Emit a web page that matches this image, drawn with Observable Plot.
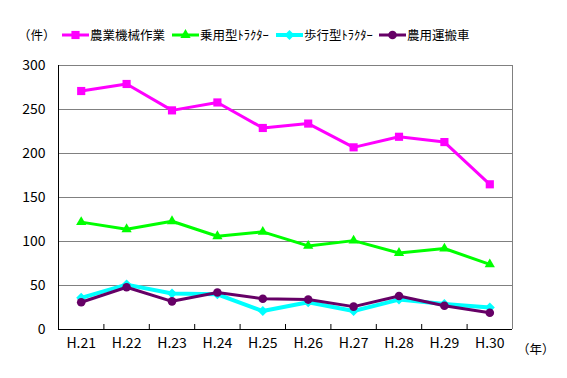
<!DOCTYPE html>
<html>
<head>
<meta charset="utf-8">
<script src="https://cdn.jsdelivr.net/npm/d3@7"></script>
<script src="https://cdn.jsdelivr.net/npm/@observablehq/plot@0.6"></script>
<style>
  html, body { margin: 0; padding: 0; background: #fff; }
  #wrap { position: relative; width: 567px; height: 378px; font-family: "Noto Sans CJK JP", sans-serif; color: #000; }
  #legend { position: relative; width: 567px; height: 52px; }
  .item { position: absolute; top: 26px; display: flex; align-items: center; font-size: 12.5px; line-height: 18px; white-space: nowrap; }
  .item svg { display: block; margin-right: 1px; }
  #unit { position: absolute; left: 18px; top: 26px; font-size: 12.5px; line-height: 18px; }
  #yearlab { position: absolute; left: 517px; top: 340px; font-size: 12.5px; line-height: 18px; }
  #chart svg { display: block; }
</style>
</head>
<body>
<div id="wrap">
  <div id="legend"><span id="unit">（件）</span></div>
  <div id="chart"></div>
  <span id="yearlab">（年）</span>
</div>
<script>
const years = ["H.21","H.22","H.23","H.24","H.25","H.26","H.27","H.28","H.29","H.30"];
const seriesNames = ["農業機械作業", "乗用型ﾄﾗｸﾀｰ", "歩行型ﾄﾗｸﾀｰ", "農用運搬車"];
const nogyoKikai = [271, 279, 249, 258, 229, 234, 207, 219, 213, 165];
const joyoTractor = [122, 114, 123, 106, 111, 95, 101, 87, 92, 74];
const hokoTractor = [36, 51, 41, 40, 21, 31, 21, 34, 29, 25];
const unpansha = [31, 48, 32, 42, 35, 34, 26, 38, 27, 19];
const yTicks = [0, 50, 100, 150, 200, 250, 300];

const values = [nogyoKikai, joyoTractor, hokoTractor, unpansha];
const styles = [
  {color: "#ff00ff", symbol: "square", r: 4.6, rotate: 0, sw: 3},
  {color: "#00ff00", symbol: "triangle", r: 3.8, rotate: 0, sw: 3},
  {color: "#00ffff", symbol: "square", r: 4.0, rotate: 45, sw: 4},
  {color: "#660066", symbol: "circle", r: 4.3, rotate: 0, sw: 3}
];

const rows = [];
seriesNames.forEach((s, k) => values[k].forEach((v, i) => rows.push({series: s, k, i: i + 1, year: years[i], value: v})));

const n = years.length;
const bounds = d3.range(1.5, n, 1);

const marks = [
  Plot.gridY(yTicks.slice(1), {stroke: "#808080", strokeOpacity: 1, strokeWidth: 1}),
  Plot.ruleX([n + 0.5], {stroke: "#808080"}),
  Plot.ruleY([0], {stroke: "#000"}),
  Plot.ruleX([0.5], {stroke: "#000"}),
  Plot.axisY(yTicks, {tickSize: 0, tickPadding: 13, fontSize: 14, fill: "#000", label: null}),
  Plot.axisX(d3.range(1, n + 1), {tickSize: 0, tickPadding: 9, tickFormat: d => years[d - 1], fontSize: 14, fill: "#000", label: null}),
  Plot.ruleX(bounds, {x: d => d, y1: 0, y2: 0, insetBottom: 5, stroke: "#000", strokeWidth: 1})
];
seriesNames.forEach((s, k) => {
  const st = styles[k];
  const data = rows.filter(d => d.k === k);
  marks.push(Plot.line(data, {x: "i", y: "value", stroke: st.color, strokeWidth: st.sw}));
  marks.push(Plot.dot(data, {x: "i", y: "value", fill: st.color, stroke: "none", symbol: () => st.symbol, r: st.r, rotate: st.rotate}));
});

const chart = Plot.plot({
  width: 567,
  height: 326,
  marginTop: 13,
  marginBottom: 49,
  marginLeft: 58,
  marginRight: 55,
  style: {fontFamily: "'Noto Sans CJK JP', sans-serif", background: "#fff", color: "#000"},
  x: {type: "linear", domain: [0.5, n + 0.5], axis: null},
  y: {type: "linear", domain: [0, 300], axis: null},
  symbol: {type: "identity"},
  marks
});
document.getElementById("chart").appendChild(chart);

// legend
const lefts = [62, 172, 276, 379];
const legend = d3.select("#legend");
seriesNames.forEach((s, k) => {
  const st = styles[k];
  const item = legend.append("div").attr("class", "item").style("left", lefts[k] + "px");
  const sv = item.append("svg").attr("width", 27).attr("height", 14);
  sv.append("line").attr("x1", 0).attr("x2", 27).attr("y1", 7).attr("y2", 7).attr("stroke", st.color).attr("stroke-width", st.sw);
  const sym = {square: d3.symbolSquare, triangle: d3.symbolTriangle, circle: d3.symbolCircle}[st.symbol];
  sv.append("path").attr("d", d3.symbol(sym, Math.PI * st.r * st.r)()).attr("fill", st.color)
    .attr("transform", `translate(13.5,7) rotate(${st.rotate})`);
  item.append("span").text(s);
});
</script>
</body>
</html>
